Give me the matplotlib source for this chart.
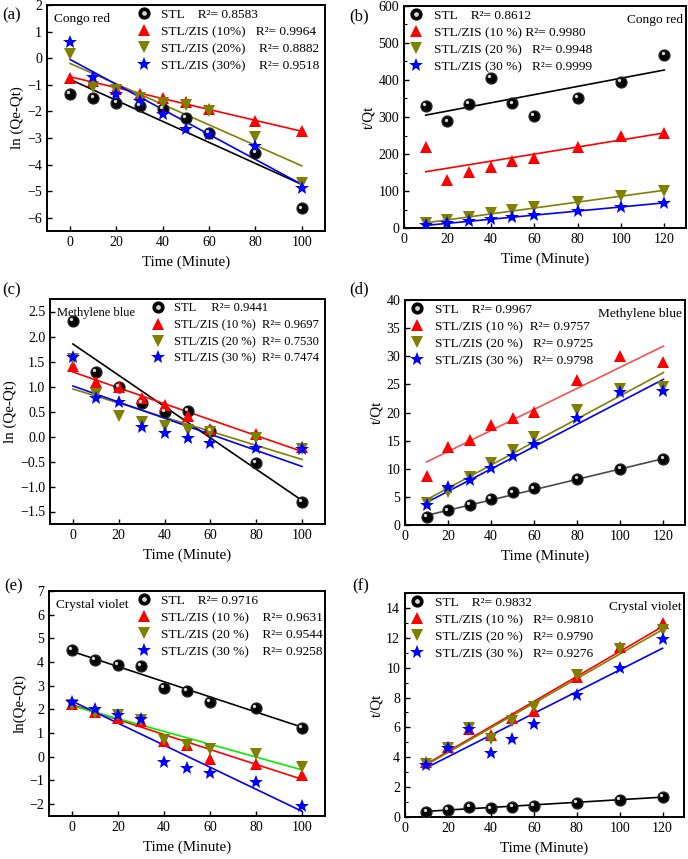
import matplotlib
matplotlib.use("Agg")
import matplotlib.pyplot as plt
from matplotlib import transforms
from matplotlib.ticker import MultipleLocator

plt.rcParams['font.family'] = ['Liberation Serif', 'DejaVu Serif']
plt.rcParams['xtick.direction'] = 'in'
plt.rcParams['ytick.direction'] = 'in'

# time axes
t_first = [0, 10, 20, 30, 40, 50, 60, 80, 100]
t_second = [10, 20, 30, 40, 50, 60, 80, 100, 120]

series_names = ["STL", "STL/ZIS (10 %)", "STL/ZIS (20 %)", "STL/ZIS (30 %)"]

# (a) Congo red, pseudo first order
a_stl = [-1.35, -1.48, -1.68, -1.80, -1.90, -2.25, -2.80, -3.55, -5.65]
a_10 = [-0.75, -0.85, -1.15, -1.35, -1.50, -1.65, -1.90, -2.35, -2.75]
a_20 = [0.15, -1.10, -1.20, -1.50, -1.70, -1.75, -2.00, -2.95, -4.70]
a_30 = [0.60, -0.70, -1.35, -1.60, -2.10, -2.65, -2.85, -3.30, -4.90]
a_fit = [(-0.80, -4.75), (-0.70, -2.75), (-0.20, -4.05), (-0.05, -4.75)]
a_r2 = ["0.8583", "0.9964", "0.8882", "0.9518"]

# (b) Congo red, pseudo second order
b_stl = [330, 288, 335, 405, 337, 303, 352, 395, 468]
b_10 = [220, 130, 152, 165, 182, 190, 218, 248, 258]
b_20 = [14, 22, 31, 40, 48, 56, 71, 86, 101]
b_30 = [8, 13, 19, 24, 29, 35, 45, 56, 67]
b_fit = [(305, 427), (152, 257), (14, 102), (7, 68)]
b_r2 = ["0.8612", "0.9980", "0.9948", "0.9999"]

# (c) Methylene blue, pseudo first order
c_stl = [2.32, 1.30, 1.00, 0.67, 0.50, 0.52, 0.12, -0.52, -1.30]
c_10 = [1.42, 1.10, 1.00, 0.78, 0.63, 0.42, 0.15, 0.05, -0.20]
c_20 = [1.55, 0.85, 0.42, 0.30, 0.22, 0.13, 0.10, -0.02, -0.25]
c_30 = [1.60, 0.77, 0.70, 0.20, 0.07, -0.03, -0.12, -0.22, -0.25]
c_fit = [(1.85, -1.28), (1.29, -0.30), (0.95, -0.46), (1.01, -0.60)]
c_r2 = ["0.9441", "0.9697", "0.7530", "0.7474"]

# (d) Methylene blue, pseudo second order
d_stl = [1.5, 2.6, 3.6, 4.6, 5.8, 6.5, 8.2, 10.0, 11.7]
d_10 = [8.8, 13.9, 15.2, 17.7, 19.1, 20.1, 25.8, 30.0, 28.9]
d_20 = [4.0, 5.8, 8.5, 11.0, 13.3, 15.7, 20.4, 24.2, 24.6]
d_30 = [3.5, 6.8, 8.0, 10.2, 12.3, 14.4, 19.0, 23.6, 23.9]
d_fit = [(1.7, 11.8), (11.2, 31.8), (4.5, 27.1), (4.0, 25.9)]
d_r2 = ["0.9967", "0.9757", "0.9725", "0.9798"]

# (e) Crystal violet, pseudo first order
e_stl = [4.50, 4.10, 3.88, 3.83, 2.92, 2.77, 2.33, 2.08, 1.23]
e_10 = [2.25, 1.90, 1.65, 1.50, 0.65, 0.50, -0.10, -0.30, -0.75]
e_20 = [2.20, 1.85, 1.75, 1.55, 0.70, 0.50, 0.35, 0.12, -0.42]
e_30 = [2.30, 2.00, 1.75, 1.60, -0.20, -0.47, -0.70, -1.07, -2.07]
e_fit = [(4.45, 1.25), (2.20, -0.95), (2.15, -0.55), (2.35, -2.30)]
e_r2 = ["0.9716", "0.9631", "0.9544", "0.9258"]

# (f) Crystal violet, pseudo second order
f_stl = [0.35, 0.47, 0.68, 0.58, 0.67, 0.75, 0.97, 1.15, 1.33]
f_10 = [3.70, 4.70, 5.90, 5.50, 6.60, 7.10, 9.40, 11.40, 13.00]
f_20 = [3.55, 4.60, 5.95, 5.25, 6.40, 7.35, 9.50, 11.25, 12.50]
f_30 = [3.50, 4.65, 5.90, 4.30, 5.25, 6.25, 8.20, 10.00, 11.90]
f_fit = [(0.38, 1.33), (3.55, 12.75), (3.50, 12.55), (3.30, 11.30)]
f_r2 = ["0.9832", "0.9810", "0.9790", "0.9276"]

marker_colors = ["black", "#ff0000", "#808000", "#0000ff"]
markers = ["o", "^", "v", "*"]
msizes = [7.8, 8.3, 8.3, 10]

W, H = 688, 859
fig = plt.figure(figsize=(W / 100, H / 100), dpi=100)


def box(l, t, r, b):
    return [l / W, 1 - b / H, (r - l) / W, (b - t) / H]


def panel(rect, t, ys, fits, r2s, line_colors, xlim, ylim, xstep, ystep,
          ylabel, letter, dye, dye_right, names, gaps, legend_anchor, minor_y=None, fs=9.6):
    ax = fig.add_axes(box(*rect))
    for i in range(4):
        ax.plot([t[0], t[-1]], list(fits[i]), color=line_colors[i], lw=1.2, zorder=2)
    handles = []
    for i in range(4):
        if i == 0:
            ax.plot(t, ys[i], ls="none", marker="o", ms=msizes[i], color="black",
                    markeredgecolor="#222222", zorder=3)
            off = transforms.offset_copy(ax.transData, fig=fig, x=-1.3, y=1.3, units="points")
            ax.plot(t, ys[i], ls="none", marker="o", ms=2.4, color="#d8d8d8",
                    markeredgewidth=0, transform=off, zorder=4)
            h, = ax.plot([], [], ls="none", marker="o", ms=msizes[i], color="black")
            h2, = ax.plot([], [], ls="none", marker="o", ms=2.4, color="#d8d8d8")
            handles.append((h, h2))
        else:
            h, = ax.plot(t, ys[i], ls="none", marker=markers[i], ms=msizes[i],
                         color=marker_colors[i], markeredgewidth=0, zorder=3)
            handles.append(h)
    labels = [names[i] + " " * gaps[i] + "R\u00b2= " + r2s[i] for i in range(4)]
    ax.legend(handles, labels, loc="upper left", bbox_to_anchor=legend_anchor,
              frameon=False, fontsize=fs, handlelength=1.0, handletextpad=0.8,
              labelspacing=0.36 * 9.6 / fs, borderaxespad=0.0, borderpad=0.0)
    if dye_right:
        ax.text(0.99, 0.965, dye, transform=ax.transAxes, ha="right", va="top", fontsize=fs)
    else:
        ax.text(0.025, 0.965, dye, transform=ax.transAxes, ha="left", va="top", fontsize=fs)
    ax.set_xlim(*xlim)
    ax.set_ylim(*ylim)
    ax.xaxis.set_major_locator(MultipleLocator(xstep))
    ax.yaxis.set_major_locator(MultipleLocator(ystep))
    if minor_y:
        ax.yaxis.set_minor_locator(MultipleLocator(minor_y))
    ax.tick_params(which="major", length=3.5, width=1.0, labelsize=10)
    ax.tick_params(which="minor", length=2, width=0.8)
    for s in ax.spines.values():
        s.set_linewidth(1.4)
    ax.set_xlabel("Time (Minute)", fontsize=10.8, labelpad=5)
    ax.set_ylabel(ylabel, fontsize=10.8, labelpad=2)
    fig.text(letter[1] / W, 1 - letter[2] / H, letter[0], fontsize=12, ha="left", va="center")
    return ax


lc_std = ["black", "#ff0000", "#808000", "#0000ff"]

panel((47, 5, 325, 231), t_first, [a_stl, a_10, a_20, a_30], a_fit, a_r2, lc_std,
      (-10, 110), (-6.5, 2), 20, 1, "ln (Qe-Qt)", ("(a)", 2, 15), "Congo red", False,
      ["STL", "STL/ZIS (10%)", "STL/ZIS (20%)", "STL/ZIS (30%)"], [4, 3, 4, 4], (0.325, 0.985))

panel((404, 6, 686, 228), t_second, [b_stl, b_10, b_20, b_30], b_fit, b_r2, lc_std,
      (0, 130), (0, 600), 20, 100, "t/Qt", ("(b)", 349, 16), "Congo red", True,
      series_names, [4, 1, 3, 3], (0.02, 0.985), minor_y=50)

panel((50, 299, 325, 524), t_first, [c_stl, c_10, c_20, c_30], c_fit, c_r2, lc_std,
      (-10, 110), (-1.75, 2.75), 20, 0.5, "ln (Qe-Qt)", ("(c)", 2, 290), "Methylene blue", False,
      series_names, [5, 2, 2, 2], (0.37, 0.985), fs=9.0)

panel((405, 300, 685, 525), t_second, [d_stl, d_10, d_20, d_30], d_fit, d_r2,
      ["#4a4a4a", "#ff5050", "#808000", "#0000ff"],
      (0, 130), (0, 40), 20, 5, "t/Qt", ("(d)", 349, 289), "Methylene blue", True,
      series_names, [4, 2, 3, 3], (0.02, 0.985))

panel((49, 591, 325, 816), t_first, [e_stl, e_10, e_20, e_30], e_fit, e_r2,
      ["black", "#ff0000", "#00ee00", "#0000ff"],
      (-10, 110), (-2.5, 7), 20, 1, "ln(Qe-Qt)", ("(e)", 4, 586), "Crystal violet", False,
      series_names, [4, 4, 4, 4], (0.32, 0.985))

panel((405, 593, 684, 817), t_second, [f_stl, f_10, f_20, f_30], f_fit, f_r2, lc_std,
      (0, 130), (0, 15), 20, 2, "t/Qt", ("(f)", 352, 586), "Crystal violet", True,
      series_names, [4, 3, 3, 3], (0.02, 0.985), minor_y=1)

fig.savefig("out.png", dpi=100)
